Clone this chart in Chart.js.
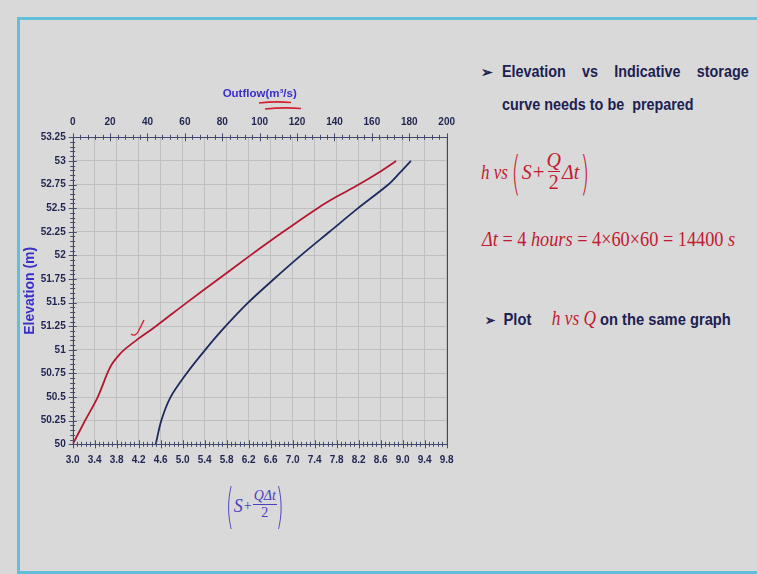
<!DOCTYPE html>
<html>
<head>
<meta charset="utf-8">
<script src="https://cdn.jsdelivr.net/npm/chart.js@4/dist/chart.umd.min.js"></script>
<style>
  body { margin: 0; width: 757px; height: 574px; background: #d9d9d9; overflow: hidden; position: relative; font-family: "Liberation Sans", Arial, sans-serif; }
  #frame { position: absolute; left: 17px; top: 17px; width: 760px; height: 551px; border-left: 3px solid #62bfdc; border-top: 3px solid #62bfdc; border-bottom: 4px solid #62bfdc; }
  #wrap { position: absolute; left: 0; top: 80px; width: 464px; height: 400px; }
  .txt { position: absolute; color: #1c2152; font-weight: bold; font-size: 17px; white-space: nowrap; transform-origin: 0 0; }
  .serif { font-family: "Liberation Serif", "Times New Roman", serif; font-weight: normal; }
  .it { font-style: italic; }
  .red { color: #c21a30; }
  .frac { display: inline-flex; flex-direction: column; align-items: center; vertical-align: middle; }
  .paren { display: inline-block; font-family: "DejaVu Sans", sans-serif; font-weight: 200; }
</style>
</head>
<body>
<div id="frame"></div>
<div id="wrap"><canvas id="chart"></canvas></div>

<div class="txt" style="left:481px; top:64px; font-size:14px;">&#10146;</div>
<div class="txt" style="left:502px; top:62px; width:292px; display:flex; justify-content:space-between; transform:scaleX(0.845);">
  <span>Elevation</span><span>vs</span><span>Indicative</span><span>storage</span>
</div>
<div class="txt" style="left:502px; top:95px; transform:scaleX(0.845);">curve needs to be&nbsp; prepared</div>

<div class="txt serif red" style="left:481px; top:148px; display:flex; align-items:center; font-size:20px; height:48px;">
  <span class="it" style="transform:scaleX(0.85); transform-origin:0 50%; width:26px;">h vs</span>
  <span class="paren" style="font-size:30px; transform:scale(0.75,1.55); margin:0 -2px 0 3px;">(</span>
  <span class="it" style="margin-left:2px;">S</span><span style="margin:0 2px 0 1px; font-size:21px;">+</span>
  <span class="frac it" style="font-size:20px; line-height:21px; margin-top:-2px;"><span>Q</span><span style="border-top:1px solid #c21a30; font-style:normal; padding:0 1px;">2</span></span>
  <span class="it" style="margin-left:1px;">&Delta;t</span>
  <span class="paren" style="font-size:30px; transform:scale(0.75,1.55); margin-left:0px;">)</span>
</div>

<div class="txt serif red" style="left:482px; top:227px; font-size:21px; transform:scaleX(0.87);">
  <span class="it">&Delta;t</span> = 4 <span class="it">hours</span> = 4&times;60&times;60 = 14400 <span class="it">s</span>
</div>

<div class="txt" style="left:485px; top:307px; transform:scaleX(0.865);">
  <span style="font-size:14px;">&#10146;</span>&nbsp; Plot&nbsp;&nbsp;&nbsp;&nbsp; <span class="serif it red" style="font-size:20px;">h vs Q</span> on the same graph
</div>

<div class="txt serif" style="left:227px; top:482px; display:flex; align-items:center; color:#4a3fbf; height:48px;">
  <span class="paren" style="font-size:30px; transform:scale(0.65,1.6); margin:0 -3px;">(</span>
  <span class="it" style="font-size:18px; margin:0 1px 0 1px;">S</span>
  <span style="font-size:14px;">+</span>
  <span class="frac it" style="font-size:14px; line-height:16px; margin:-4px 0 0 1px;"><span style="border-bottom:1px solid #4a3fbf; padding:0 1px;">Q&Delta;t</span><span style="font-style:normal;">2</span></span>
  <span class="paren" style="font-size:30px; transform:scale(0.65,1.6); margin:0 -3px;">)</span>
</div>

<svg style="position:absolute; left:0; top:0;" width="757" height="574">
  <path d="M259 103 Q275 101 291 102.5" stroke="#d42030" stroke-width="1.7" fill="none"/>
  <path d="M265 109 Q284 107 301 108.5" stroke="#d42030" stroke-width="1.7" fill="none"/>
  <path d="M131 334 Q135 337 138 332 Q141 326 144 320" stroke="#d42030" stroke-width="1.4" fill="none"/>
</svg>

<script>
// elevation (m) for the outflow curve
var elevRed = [50, 50.25, 50.5, 50.75, 50.85, 50.95, 51, 51.1, 51.25, 51.5, 51.75, 52, 52.25, 52.5, 52.625, 52.75, 52.875, 53];
// outflow Q (m3/s), top axis
var outflow = [0, 6.6, 13.4, 18.5, 21, 25, 27.5, 34, 44.5, 61, 78, 95, 112.6, 131, 141.5, 153, 163.5, 173];

// elevation (m) for the storage curve
var elevBlue = [50, 50.25, 50.5, 50.75, 51, 51.25, 51.5, 51.75, 52, 52.25, 52.5, 52.75, 52.875, 53];
// S + Q dt / 2, bottom axis
var storage = [4.51, 4.61, 4.78, 5.07, 5.41, 5.78, 6.19, 6.66, 7.15, 7.67, 8.19, 8.74, 8.95, 9.15];

var storageTicks = [3.0, 3.4, 3.8, 4.2, 4.6, 5.0, 5.4, 5.8, 6.2, 6.6, 7.0, 7.4, 7.8, 8.2, 8.6, 9.0, 9.4, 9.8];
var outflowTicks = [0, 20, 40, 60, 80, 100, 120, 140, 160, 180, 200];
var elevTicks = [50, 50.25, 50.5, 50.75, 51, 51.25, 51.5, 51.75, 52, 52.25, 52.5, 52.75, 53, 53.25];

function toPoints(xs, ys) {
  var pts = [];
  for (var i = 0; i < xs.length; i++) pts.push({x: xs[i], y: ys[i]});
  return pts;
}

function setTicks(list) {
  return function(scale) {
    scale.ticks = list.map(function(v) { return {value: v}; });
  };
}

var tickFont = {family: '"Liberation Sans", Arial', size: 10, weight: 'bold'};

// tick marks (major + minor) and frame
var tickMarks = {
  id: 'tickMarks',
  afterDraw: function(chart) {
    var ctx = chart.ctx, a = chart.chartArea;
    var xs = chart.scales.x, x2 = chart.scales.x2, ys = chart.scales.y;
    ctx.save();
    ctx.strokeStyle = '#454c6c';
    ctx.lineWidth = 1;
    ctx.beginPath();
    var i, p, len, v;
    var yStep = (elevTicks[1] - elevTicks[0]) / 5;
    for (i = 0; i <= (elevTicks.length - 1) * 5; i++) {
      v = elevTicks[0] + i * yStep;
      p = Math.round(ys.getPixelForValue(v)) + 0.5;
      len = i % 5 === 0 ? 4 : 2.5;
      ctx.moveTo(a.left - len, p); ctx.lineTo(a.left + len, p);
    }
    var xStep = (storageTicks[1] - storageTicks[0]) / 5;
    for (i = 0; i <= (storageTicks.length - 1) * 5; i++) {
      v = storageTicks[0] + i * xStep;
      p = Math.round(xs.getPixelForValue(v)) + 0.5;
      len = i % 5 === 0 ? 4 : 2.5;
      ctx.moveTo(p, a.bottom - len); ctx.lineTo(p, a.bottom + len);
    }
    var qStep = (outflowTicks[1] - outflowTicks[0]) / 5;
    for (i = 0; i <= (outflowTicks.length - 1) * 5; i++) {
      v = outflowTicks[0] + i * qStep;
      p = Math.round(x2.getPixelForValue(v)) + 0.5;
      len = i % 5 === 0 ? 4 : 2.5;
      ctx.moveTo(p, a.top - len); ctx.lineTo(p, a.top + len);
    }
    ctx.stroke();
    ctx.strokeStyle = '#3e4870';
    ctx.strokeRect(Math.round(a.left) + 0.5, Math.round(a.top) + 0.5, Math.round(a.right - a.left), Math.round(a.bottom - a.top));
    ctx.restore();
  }
};

new Chart(document.getElementById('chart'), {
  type: 'scatter',
  data: {
    datasets: [
      {
        label: 'h vs Q',
        data: toPoints(outflow, elevRed),
        xAxisID: 'x2',
        showLine: true,
        borderColor: '#b3182e',
        borderWidth: 1.8,
        pointRadius: 0,
        tension: 0.3
      },
      {
        label: 'h vs S+Q\u0394t/2',
        data: toPoints(storage, elevBlue),
        xAxisID: 'x',
        showLine: true,
        borderColor: '#1d2a5c',
        borderWidth: 1.8,
        pointRadius: 0,
        tension: 0.3
      }
    ]
  },
  options: {
    responsive: true,
    maintainAspectRatio: false,
    animation: false,
    layout: {padding: {left: 0, right: 13, top: 0, bottom: 0}},
    plugins: {legend: {display: false}, tooltip: {enabled: false}},
    scales: {
      x: {
        position: 'bottom',
        min: 3.0, max: 9.8,
        afterBuildTicks: setTicks(storageTicks),
        afterFit: function(s) { s.height = 35.7; },
        grid: {color: '#bfbfbf', lineWidth: 1, drawTicks: false},
        border: {display: false},
        ticks: {padding: 10, color: '#1f2550', font: tickFont, maxRotation: 0, autoSkip: false,
          callback: function(v) { return Number(v).toFixed(1); }}
      },
      x2: {
        position: 'top',
        min: 0, max: 200,
        afterBuildTicks: setTicks(outflowTicks),
        afterFit: function(s) { s.height = 57.3; },
        grid: {display: false, drawTicks: false},
        border: {display: false},
        title: {display: true, text: 'Outflow(m\u00b3/s)', color: '#3a2fc9',
          font: {family: '"Liberation Sans", Arial', size: 11.5, weight: 'bold'}, padding: {top: 7, bottom: 0}},
        ticks: {padding: 9, color: '#1f2550', font: tickFont, maxRotation: 0, autoSkip: false}
      },
      y: {
        min: 50, max: 53.25,
        afterBuildTicks: setTicks(elevTicks),
        afterFit: function(s) { s.width = 72.7; },
        grid: {color: '#bfbfbf', lineWidth: 1, drawTicks: false},
        border: {display: false},
        title: {display: true, text: 'Elevation (m)', color: '#3a2fc9',
          font: {family: '"Liberation Sans", Arial', size: 14, weight: 'bold'}, padding: {top: 22, bottom: 0}},
        ticks: {padding: 7, color: '#1f2550', font: tickFont, autoSkip: false,
          callback: function(v) { return String(Number(v)); }}
      }
    }
  },
  plugins: [tickMarks]
});
</script>
</body>
</html>
